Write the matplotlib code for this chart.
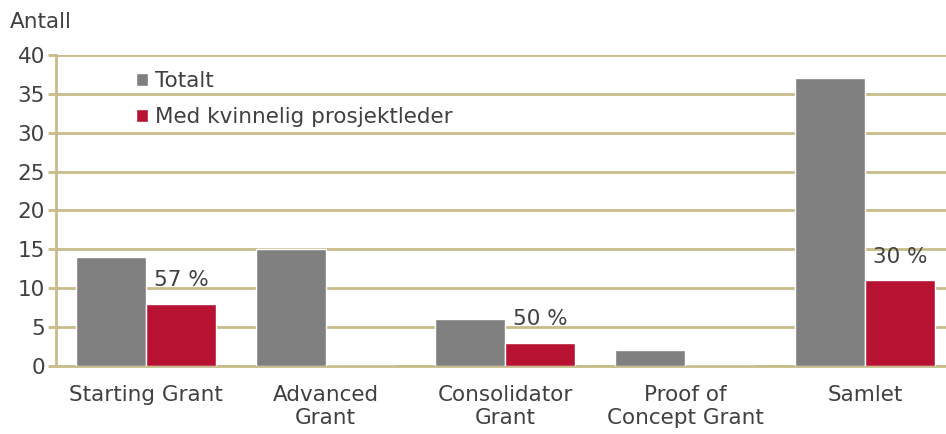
import numpy as np
import matplotlib
matplotlib.use('Agg')
import matplotlib.pyplot as plt

categories = ["Starting Grant", "Advanced\nGrant", "Consolidator\nGrant", "Proof of\nConcept Grant", "Samlet"]
totalt = [14, 15, 6, 2, 37]
kvinner = [8, 0, 3, 0, 11]
pct_labels = ["57 %", None, "50 %", None, "30 %"]

grid_col = "#C8BC8A"
text_col = "#404040"
fs = 15.5

fig = plt.figure(figsize=(9.46, 4.34), dpi=100)
ax = fig.add_axes([0.0592, 0.1567, 0.950, 0.7166])

x = np.arange(len(categories))
w = 0.39
ax.bar(x - w / 2, totalt, w, color="#808080", edgecolor="white", linewidth=1, label="Totalt", zorder=3)
ax.bar(x + w / 2, kvinner, w, color="#B81233", edgecolor="white", linewidth=1, label="Med kvinnelig prosjektleder", zorder=3)

for i, lab in enumerate(pct_labels):
    if lab:
        ax.text(x[i] + w / 2, kvinner[i] + 3, lab, ha="center", va="center", fontsize=fs, color=text_col)

ax.set_xlim(-0.5, len(categories) - 0.5)
ax.set_ylim(0, 40)
ax.set_yticks(np.arange(0, 41, 5))
ax.yaxis.grid(True, color=grid_col, linewidth=2, zorder=0)
ax.set_axisbelow(True)
for s in ["top", "right"]:
    ax.spines[s].set_visible(False)
ax.spines["left"].set_color(grid_col)
ax.spines["left"].set_linewidth(2)
ax.spines["bottom"].set_color(grid_col)
ax.spines["bottom"].set_linewidth(2)
ax.tick_params(axis="y", colors=grid_col, length=6, width=2, labelcolor=text_col, labelsize=fs, pad=2)
ax.tick_params(axis="x", length=0, labelcolor=text_col, labelsize=fs, pad=14)
ax.set_xticks(x)
ax.set_xticklabels(categories, linespacing=1.15)

ax.legend(loc="upper left", bbox_to_anchor=(0.068, 1.01), frameon=False, fontsize=fs,
          handlelength=0.55, handleheight=0.55, handletextpad=0.3, labelspacing=0.75,
          labelcolor=text_col)

fig.text(0.01, 0.95, "Antall", fontsize=fs, color=text_col, va="center", ha="left")

fig.savefig("out.png", dpi=100)
